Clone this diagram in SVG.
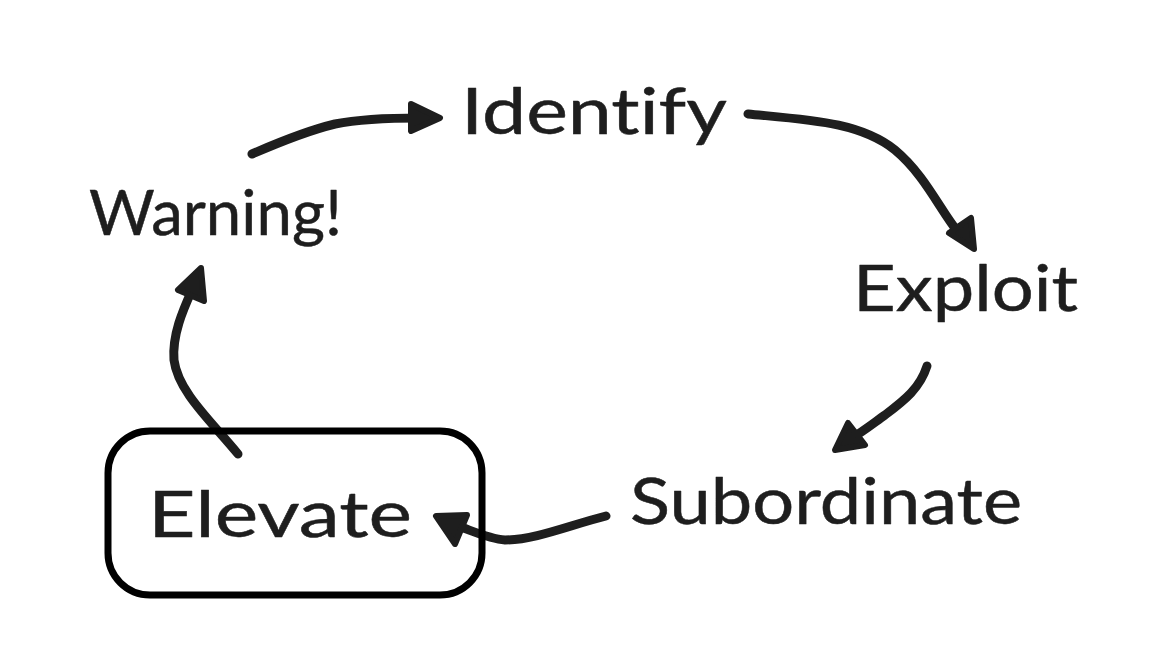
<svg xmlns="http://www.w3.org/2000/svg" width="1164" height="670" viewBox="0 0 1164 670">
<style>
.t{font-family:Lato,"Noto Sans",sans-serif;font-size:64px;font-variant-ligatures:none;fill:#1e1e1e;stroke:#1e1e1e;stroke-width:.5;stroke-linejoin:round}
.w{font-size:62px}
.c{fill:none;stroke:#1e1e1e;stroke-width:9;stroke-linecap:round;stroke-linejoin:round}
.a{fill:#1e1e1e;stroke:#1e1e1e;stroke-width:6;stroke-linejoin:round}
</style>
<rect width="1164" height="670" fill="#fff"/>
<g id="connectors">
<path class="c" d="M252 154C275 144 310 130 335 124C360 119 390 118 420 118"/><path class="a" d="M411 104L440 118L411 131Z"/>
<path class="c" d="M748 114C810 120 860 122 895 150C925 175 940 210 958 232"/><path class="a" d="M949 233L971 218L974 249Z"/>
<path class="c" d="M927 366C920 388 905 400 885 415C875 422 865 430 852 438"/><path class="a" d="M848 423L865 445L835 450Z"/>
<path class="c" d="M606 516C570 525 535 540 505 540C490 539 475 532 458 526"/><path class="a" d="M436 516L467 515L455 544Z"/>
<path class="c" d="M238 454C212 422 178 392 174 360C172 335 183 310 192 290"/><path class="a" d="M201 268L178 290L204 301Z"/>
</g>
<g id="warning"><text class="t w" x="89" y="235" textLength="253" lengthAdjust="spacingAndGlyphs">Warning!</text></g>
<g id="identify"><text class="t" x="461" y="134" textLength="266" lengthAdjust="spacingAndGlyphs">Identify</text></g>
<g id="exploit"><text class="t" x="853" y="311" textLength="225" lengthAdjust="spacingAndGlyphs">Exploit</text></g>
<g id="subordinate"><text class="t" x="630" y="524" textLength="392" lengthAdjust="spacingAndGlyphs">Subordinate</text></g>
<g id="elevate"><text class="t" x="148" y="537" textLength="264" lengthAdjust="spacingAndGlyphs">Elevate</text><rect x="108" y="431" width="374" height="164" rx="42" fill="none" stroke="#000" stroke-width="7"/></g>
</svg>
